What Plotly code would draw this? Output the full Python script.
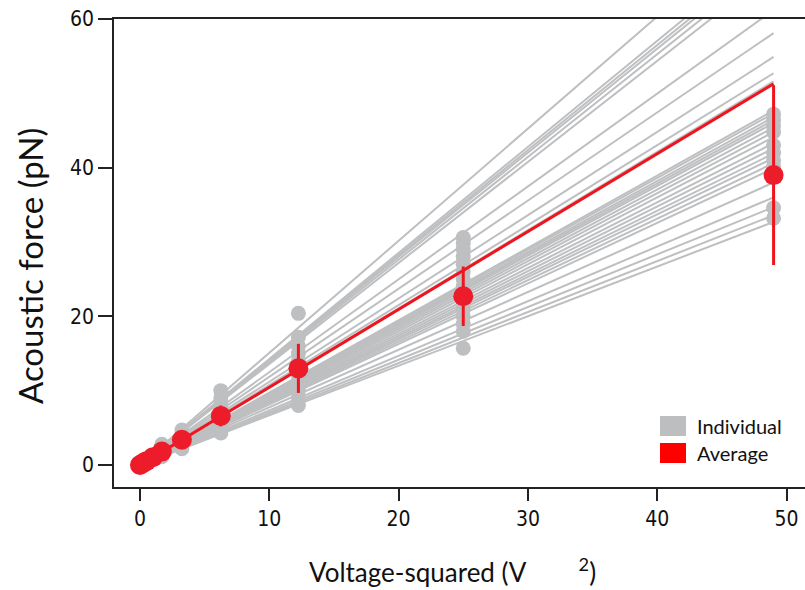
import plotly.graph_objects as go

# ---------------- data ----------------
# Voltage-squared levels (V^2)
voltage_sq = [0, 0.25, 0.49, 1.0, 1.69, 3.24, 6.25, 12.25, 25.0, 49.0]

# Average force and its spread at each level (pN)
avg_force = [0, 0.27, 0.52, 1.05, 1.8, 3.4, 6.6, 13.0, 22.7, 39.0]
avg_sd = [0, 0.1, 0.15, 0.3, 0.5, 0.8, 1.4, 3.3, 4.0, 12.1]

# Average linear fit (value at the largest voltage-squared)
avg_fit_end = 51.3

# Individual linear fits: fitted force at the largest voltage-squared (pN)
indiv_fit_end = [73.9, 69.9, 69.2, 68.6, 67.7, 66.6, 61.2,
                 58.1, 54.9, 52.7, 51.6,
                 47.7, 47.3, 46.8, 46.4, 46.0, 45.4, 44.8, 44.1, 43.3,
                 42.6, 41.9, 41.3, 40.6, 39.9, 38.0, 36.0, 34.7, 33.6, 32.7]

# Individual measurements (pN) at each voltage-squared level
indiv_points = {
    0: [0, 0.1],
    0.25: [0.2, 0.35],
    0.49: [0.4, 0.7],
    1.0: [0.8, 1.3],
    1.69: [1.1, 1.6, 2.2, 2.8],
    3.24: [2.2, 2.8, 3.4, 4.0, 4.7],
    6.25: [4.3, 5.0, 6.0, 7.0, 8.0, 9.0, 10.0],
    12.25: [8.0, 9.0, 10.0, 11.0, 12.0, 13.0, 14.0, 15.0, 16.0, 17.2, 20.4],
    25.0: [15.7, 18.0, 19.0, 20.0, 21.0, 22.0, 23.0, 24.0, 25.0, 26.0,
           27.0, 28.0, 29.0, 29.8, 30.6],
    49.0: [33.2, 34.6, 40.2, 41.0, 42.0, 43.0, 44.8, 45.6, 46.4, 47.2],
}

x_ticks = [0, 10, 20, 30, 40, 50]
y_ticks = [0, 20, 40, 60]

GRAY = "#BEBFC1"
RED_LINE = "#F0141E"
RED_DOT = "#EC1C2A"

x_end = voltage_sq[-1]

fig = go.Figure()

# individual fit lines
lx, ly = [], []
for v in indiv_fit_end:
    lx += [0, x_end, None]
    ly += [0, v, None]
fig.add_trace(go.Scatter(x=lx, y=ly, mode="lines",
                         line=dict(color=GRAY, width=2), hoverinfo="skip",
                         showlegend=False))

# individual points
px, py = [], []
for xv, vals in indiv_points.items():
    for v in vals:
        px.append(xv)
        py.append(v)
fig.add_trace(go.Scatter(x=px, y=py, mode="markers",
                         marker=dict(color=GRAY, size=15), showlegend=False))

# average fit line
fig.add_trace(go.Scatter(x=[0, x_end], y=[0, avg_fit_end], mode="lines",
                         line=dict(color=RED_LINE, width=3), showlegend=False))

# average points with error bars
fig.add_trace(go.Scatter(x=voltage_sq, y=avg_force, mode="markers",
                         marker=dict(color=RED_DOT, size=20),
                         error_y=dict(type="data", array=avg_sd, visible=True,
                                      color=RED_LINE, thickness=3, width=0),
                         showlegend=False))

tick_font = dict(family="Liberation Sans Narrow, DejaVu Sans Condensed, Roboto, sans-serif",
                 size=21, color="#111")
title_font = dict(family="Lato, Open Sans, sans-serif", size=26, color="#111")

fig.update_layout(
    width=805, height=590,
    margin=dict(l=114, r=0, t=19, b=103),
    plot_bgcolor="white", paper_bgcolor="white",
    showlegend=False,
    xaxis=dict(range=[-2.01, 51.43], tickvals=x_ticks,
               showline=True, linecolor="#222", linewidth=2, mirror=True,
               ticks="outside", ticklen=12, tickwidth=1.5, tickcolor="#222",
               showgrid=False, zeroline=False, tickfont=tick_font),
    yaxis=dict(range=[-2.96, 60], tickvals=y_ticks,
               showline=True, linecolor="#222", linewidth=1.5, mirror=False,
               ticks="outside", ticklen=14, tickwidth=1.5, tickcolor="#222",
               showgrid=False, zeroline=False, tickfont=tick_font),
)

# axis titles
fig.add_annotation(text="Voltage-squared (V&nbsp;&nbsp;&nbsp;&nbsp;&nbsp;&nbsp;&nbsp;&nbsp;<sup>2</sup>)",
                   xref="paper", yref="paper",
                   x=(452 - 114) / 691, y=-(570 - 487) / 468, showarrow=False,
                   font=title_font, xanchor="center", yanchor="middle")
fig.add_annotation(text="Acoustic force (pN)", xref="paper", yref="paper",
                   x=-(114 - 30) / 691, y=(487 - 266) / 468, showarrow=False,
                   textangle=-90, font=dict(family="Lato, Open Sans, sans-serif",
                                            size=33, color="#111"),
                   xanchor="center", yanchor="middle")

# legend (drawn manually)
leg_font = dict(family="Lato, Open Sans, sans-serif", size=20, color="#111")
for label, col, top in [("Individual", "#BCBEC0", 416), ("Average", "#FF0000", 443)]:
    fig.add_shape(type="rect", xref="paper", yref="paper",
                  x0=(660 - 114) / 691, x1=(686 - 114) / 691,
                  y0=(487 - top - 20) / 468, y1=(487 - top) / 468,
                  fillcolor=col, line=dict(width=0))
    fig.add_annotation(text=label, xref="paper", yref="paper",
                       x=(695 - 114) / 691, y=(487 - top - 10) / 468,
                       xanchor="left", yanchor="middle", showarrow=False,
                       font=leg_font)

fig.write_html("out.html", config={"displayModeBar": False},
               post_script="document.body.style.margin='0';document.body.style.overflow='hidden';")
